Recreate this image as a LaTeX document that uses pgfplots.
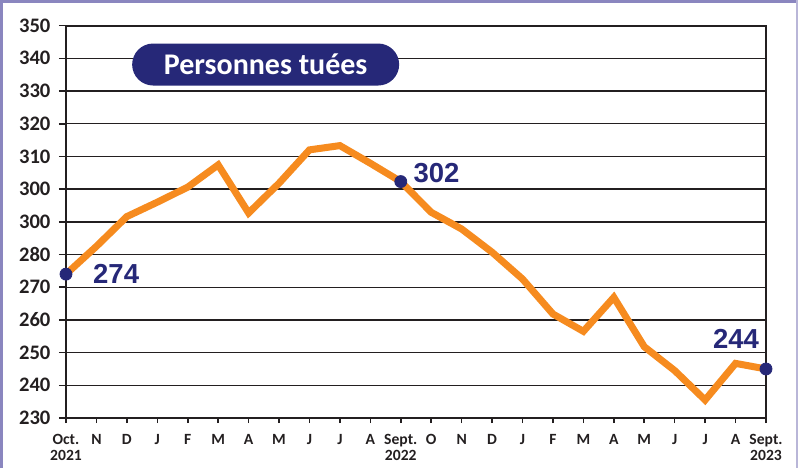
\documentclass[border=0pt]{standalone}
\usepackage{pgfplots}
\pgfplotsset{compat=1.18}
\usepackage{fontspec}
\setmainfont{Carlito}
\newfontfamily\lib{Liberation Sans}
\definecolor{navy}{HTML}{262878}
\definecolor{orng}{HTML}{F68B1F}
\definecolor{framec}{HTML}{8A86BF}
\definecolor{ink}{HTML}{231F20}
\begin{document}
\begin{tikzpicture}[x=1pt,y=1pt]
\path[use as bounding box] (-33,-25) rectangle (366,209);
\draw[framec, line width=1.6pt] (-32.2,-25) -- (-32.2,208.5) -- (366,208.5);
\draw[framec!60, line width=0.8pt] (365.6,209) -- (365.6,-25);
\begin{axis}[
  at={(0,0)}, anchor=south west,
  scale only axis, width=350pt, height=196.2pt,
  xmin=0, xmax=23, ymin=230, ymax=350,
  xtick={0,...,23},
  xticklabels={{Oct.\\2021},N,D,J,F,M,A,M,J,J,A,{Sept.\\2022},O,N,D,J,F,M,A,M,J,J,A,{Sept.\\2023}},
  ytick={230,240,...,350},
  yticklabels={230,240,250,260,270,280,300,300,310,320,330,340,350},
  ymajorgrids, grid style={ink, line width=0.7pt},
  axis line style={ink, line width=1pt},
  tick style={ink, line width=0.8pt},
  tick align=outside,
  xtick pos=bottom, ytick pos=left,
  xtick style={/pgfplots/major tick length=2.5pt},
  ytick style={/pgfplots/major tick length=3.5pt},
  yticklabel style={font=\bfseries\fontsize{10.3}{10.3}\selectfont, text=ink},
  xticklabel style={font=\bfseries\fontsize{7.8}{7.8}\selectfont, align=center, text=ink, anchor=north, yshift=-0.5pt},
  clip=false,
]
\addplot[orng, line width=3.5pt, line join=miter] coordinates {
 (0,274) (1,282.5) (2,291.6) (3,296) (4,300.6) (5,307.4) (6,292.7) (7,301.8)
 (8,312) (9,313.3) (10,307.9) (11,302.3) (12,292.9) (13,287.8) (14,280.7)
 (15,272.5) (16,261.8) (17,256.5) (18,266.9) (19,251.8) (20,244.5) (21,235.5)
 (22,246.7) (23,245)};
\addplot[only marks, mark=*, mark size=3pt, navy, mark options={fill=navy, draw=navy}] coordinates {(0,274) (11,302.3) (23,245)};
\node[anchor=west, inner sep=0, text=navy, font=\lib\bfseries\fontsize{13.75}{13.75}\selectfont] at (axis cs:0.88,274.2) {274};
\node[anchor=west, inner sep=0, text=navy, font=\lib\bfseries\fontsize{13.75}{13.75}\selectfont] at (axis cs:11.41,304.8) {302};
\node[anchor=east, inner sep=0, text=navy, font=\lib\bfseries\fontsize{13.75}{13.75}\selectfont] at (axis cs:22.78,254.2) {244};
\node[fill=navy, text=white, rounded corners=10.5pt, minimum width=133.5pt, minimum height=21pt, inner sep=0, font=\bfseries\fontsize{15}{15}\selectfont] at (axis cs:6.56,338.1) {Personnes tuées};
\end{axis}
\end{tikzpicture}
\end{document}
